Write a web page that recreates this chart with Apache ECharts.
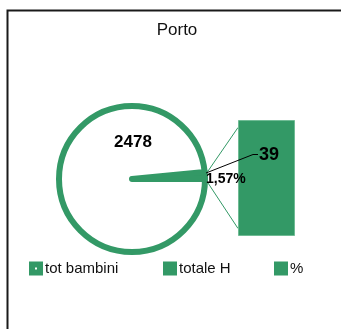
<!DOCTYPE html>
<html>
<head>
<meta charset="utf-8">
<script src="https://cdn.jsdelivr.net/npm/echarts@6/dist/echarts.min.js"></script>
<style>
  html, body { margin: 0; padding: 0; background: #fff; }
  #chart { width: 341px; height: 329px; }
</style>
</head>
<body>
<div id="chart"></div>
<script>
// Porto: children total vs. "totale H" share (pie of bar)
const title = 'Porto';
const categories = ['tot bambini', 'totale H', '%'];
const totBambini = 2478;
const totaleH = 39;
const percentH = 1.57; // per cent

const GREEN = '#339966';
const FONT = '"Liberation Sans", Arial, sans-serif';

// layout
const pieCenter = [132, 179];
const pieRadius = 73;
const ringWidth = 6;
const barBox = { left: 238, top: 120, width: 57, height: 116 };

const pctFraction = percentH / 100;
const otherValue = totaleH + pctFraction;          // slice split out into the bar
const sliceAngle = 360 * otherValue / (totBambini + otherValue);

const chart = echarts.init(document.getElementById('chart'), null, { renderer: 'canvas' });

// small key box with a thick square border, so the swatch sits right against its text
function legendAt(left, name, fill) {
  const style = { color: fill, borderColor: GREEN, borderWidth: 6, borderJoin: 'miter', borderCap: 'butt' };
  return {
    left: left, top: 261, padding: 0,
    itemWidth: 8, itemHeight: 8, itemGap: 0,
    icon: 'rect',
    selectedMode: false,
    itemStyle: style,
    data: [{ name: name, itemStyle: style }],
    textStyle: { fontFamily: FONT, fontSize: 15, color: '#111' }
  };
}

chart.setOption({
  animation: false,
  backgroundColor: '#fff',
  legend: [
    legendAt(29, categories[0], '#fff'),
    legendAt(163, categories[1], GREEN),
    legendAt(274, categories[2], GREEN)
  ],
  grid: { left: barBox.left, top: barBox.top, width: barBox.width, height: barBox.height },
  xAxis: { type: 'category', data: [''], show: false },
  yAxis: { type: 'value', min: 0, max: otherValue, show: false },
  series: [
    {
      type: 'pie',
      name: 'Porto',
      center: pieCenter,
      radius: pieRadius,
      startAngle: sliceAngle,
      clockwise: true,
      silent: true,
      label: { show: false },
      labelLine: { show: false },
      data: [
        { name: categories[1], value: otherValue,
          itemStyle: { color: GREEN, borderColor: GREEN, borderWidth: ringWidth } },
        { name: categories[0], value: totBambini,
          itemStyle: { color: '#fff', borderColor: GREEN, borderWidth: ringWidth } }
      ]
    },
    {
      type: 'bar', name: categories[1], stack: 'h', barWidth: '100%',
      silent: true,
      itemStyle: { color: GREEN, borderColor: '#6fbb94', borderWidth: 1 },
      data: [totaleH]
    },
    {
      type: 'bar', name: categories[2], stack: 'h', barWidth: '100%',
      silent: true,
      itemStyle: { color: GREEN },
      data: [pctFraction]
    }
  ]
});

// connectors from the split slice to the bar, plus frame and labels
const topPx = chart.convertToPixel({ gridIndex: 0 }, [0, otherValue]);
const botPx = chart.convertToPixel({ gridIndex: 0 }, [0, 0]);
const barLeft = barBox.left;
const barTop = topPx[1];
const barBottom = botPx[1];
const inset = (barBottom - barTop) * 0.065;
const rOut = pieRadius + ringWidth / 2;
const a = sliceAngle * Math.PI / 180;
const upStart = [pieCenter[0] + rOut * Math.cos(a), pieCenter[1] - rOut * Math.sin(a)];
const loStart = [pieCenter[0] + rOut, pieCenter[1] + ringWidth / 2 + 1];

const pctText = percentH.toFixed(2).replace('.', ',') + '%';

chart.setOption({
  graphic: [
    { type: 'polyline', z: 0, silent: true,
      shape: { points: [[7.5, 400], [7.5, 10.5], [400, 10.5]] },
      style: { stroke: '#1a1a1a', lineWidth: 2, fill: null } },
    { type: 'line', z: 1, silent: true,
      shape: { x1: upStart[0], y1: upStart[1], x2: barLeft, y2: barTop + inset },
      style: { stroke: GREEN, lineWidth: 1 } },
    { type: 'line', z: 1, silent: true,
      shape: { x1: loStart[0], y1: loStart[1], x2: barLeft, y2: barBottom - inset },
      style: { stroke: GREEN, lineWidth: 1 } },
    { type: 'text', z: 10, silent: true, x: 177, y: 30.5,
      style: { text: title, font: '17px ' + FONT, fill: '#111', align: 'center', verticalAlign: 'middle' } },
    { type: 'text', z: 10, silent: true, x: 133, y: 142.5,
      style: { text: String(totBambini), font: 'bold 17px ' + FONT, fill: '#000', align: 'center', verticalAlign: 'middle' } },
    { type: 'polyline', z: 10, silent: true,
      shape: { points: [[206, 173], [253, 154.5], [258, 154.5]] },
      style: { stroke: '#000', lineWidth: 1, fill: null } },
    { type: 'text', z: 10, silent: true, x: 259, y: 155,
      style: { text: String(totaleH), font: 'bold 18px ' + FONT, fill: '#000', align: 'left', verticalAlign: 'middle' } },
    { type: 'text', z: 10, silent: true, x: 206, y: 179,
      style: { text: pctText, font: 'bold 14px ' + FONT, fill: '#000', align: 'left', verticalAlign: 'middle' } }
  ]
});
</script>
</body>
</html>
